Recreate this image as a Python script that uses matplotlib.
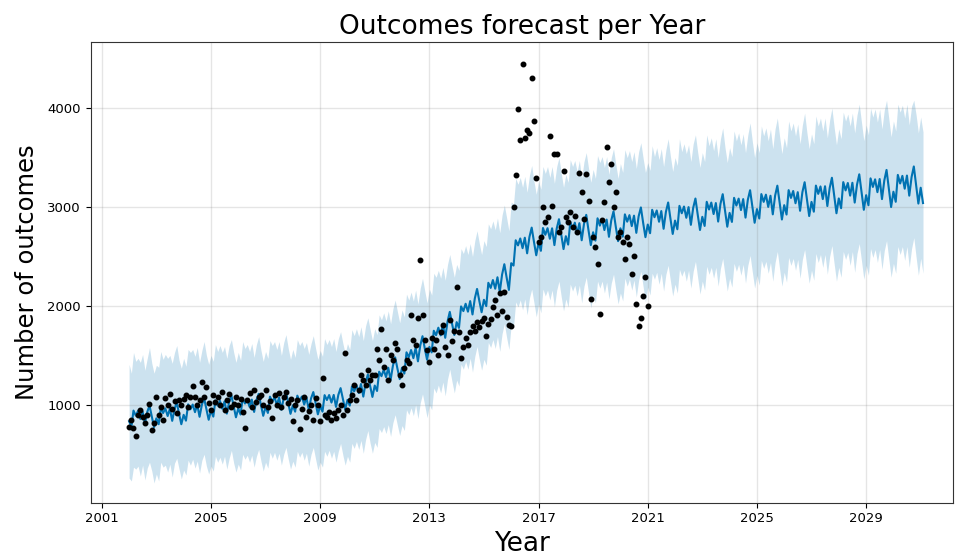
import matplotlib
matplotlib.use("Agg")
import matplotlib.pyplot as plt
import pandas as pd
import datetime as dt

# ---------------- data ----------------
# observed monthly outcomes, Jan 2002 .. Jan 2021
actual = [
    780, 850, 770, 690, 900, 950, 880, 820, 900, 1010, 750, 820,          # 2002
    1080, 900, 980, 850, 1070, 1000, 1110, 960, 1040, 920, 1050, 1000,    # 2003
    1060, 1100, 980, 1080, 1190, 1080, 1000, 1050, 1230, 1080, 1180, 1020,  # 2004
    950, 1100, 1030, 1080, 1000, 1130, 950, 1050, 1110, 980, 1010, 1080,  # 2005
    1000, 1060, 930, 770, 1050, 1120, 980, 1150, 1030, 1080, 1100, 1000,  # 2006
    1150, 980, 1040, 870, 1100, 1000, 1120, 980, 1080, 1130, 1020, 1060,  # 2007
    840, 1000, 1050, 760, 960, 1080, 880, 940, 1000, 850, 1070, 1000,     # 2008
    840, 1270, 900, 880, 930, 850, 920, 870, 950, 1000, 900, 1520,        # 2009
    950, 1050, 1100, 1200, 1050, 1150, 1300, 1250, 1200, 1350, 1250, 1300,  # 2010
    1300, 1560, 1450, 1770, 1380, 1560, 1250, 1500, 1450, 1630, 1560, 1300,  # 2011
    1200, 1370, 1450, 1420, 1910, 1660, 1610, 1880, 2460, 1910, 1660, 1550,  # 2012
    1430, 1680, 1560, 1660, 1500, 1740, 1810, 1580, 1500, 1860, 1650, 1750,  # 2013
    2190, 1740, 1470, 1580, 1680, 1600, 1740, 1800, 1750, 1840, 1790, 1850,  # 2014
    1880, 1700, 1820, 1870, 1990, 2060, 1910, 2130, 1950, 2140, 1890, 1810,  # 2015
    1800, 3000, 3320, 3990, 3680, 4450, 3700, 3780, 3750, 4300, 3870, 3290,  # 2016
    2650, 2700, 3000, 2850, 2900, 3720, 3010, 3540, 3540, 2750, 2800, 3360,  # 2017
    2900, 2850, 2950, 2800, 2910, 2750, 3340, 3150, 2880, 3330, 3060, 2070,  # 2018
    2700, 2600, 2420, 1920, 2870, 3050, 3610, 3250, 3430, 3000, 3150, 2700,  # 2019
    2750, 2650, 2470, 2700, 2630, 2320, 2500, 2020, 1800, 1880, 2100, 2290,  # 2020
    2000,                                                                  # 2021
]

# forecast (yhat) monthly, Jan 2002 .. Feb 2031
yhat = [
    834, 776, 942, 891, 939, 857, 933, 810, 927, 993, 879, 774,
    864, 804, 968, 917, 965, 887, 961, 838, 958, 1024, 909, 804,
    899, 840, 1005, 955, 1003, 926, 1002, 879, 1000, 1066, 953, 849,
    942, 881, 1045, 993, 1040, 961, 1035, 911, 1030, 1095, 980, 874,
    964, 902, 1066, 1013, 1059, 980, 1053, 928, 1047, 1111, 995, 889,
    979, 918, 1083, 1031, 1078, 1000, 1074, 950, 1069, 1134, 1016, 909,
    994, 931, 1093, 1039, 1084, 1003, 1075, 949, 1066, 1129, 1012, 904,
    989, 931, 1098, 1049, 1099, 1023, 1100, 979, 1101, 1169, 1057, 954,
    1050, 992, 1184, 1136, 1198, 1120, 1211, 1083, 1225, 1307, 1188, 1080,
    1195, 1140, 1335, 1290, 1355, 1280, 1375, 1250, 1395, 1480, 1365, 1260,
    1376, 1316, 1531, 1482, 1554, 1472, 1577, 1440, 1600, 1694, 1568, 1456,
    1586, 1530, 1749, 1704, 1780, 1702, 1811, 1678, 1842, 1940, 1818, 1706,
    1836, 1778, 1995, 1948, 2022, 1942, 2049, 1914, 2076, 2172, 2048, 1936,
    2062, 1998, 2234, 2182, 2262, 2174, 2290, 2142, 2318, 2422, 2286, 2162,
    2432, 2408, 2664, 2612, 2682, 2584, 2690, 2532, 2698, 2792, 2646, 2512,
    2640, 2557, 2788, 2719, 2786, 2679, 2785, 2615, 2783, 2877, 2719, 2575,
    2705, 2620, 2849, 2777, 2842, 2732, 2837, 2664, 2830, 2921, 2761, 2615,
    2745, 2660, 2886, 2812, 2878, 2767, 2873, 2699, 2866, 2956, 2797, 2655,
    2785, 2700, 2926, 2852, 2918, 2807, 2913, 2739, 2906, 2996, 2837, 2695,
    2823, 2735, 2972, 2897, 2965, 2851, 2959, 2780, 2952, 3046, 2880, 2728,
    2863, 2775, 3012, 2937, 3005, 2891, 2999, 2820, 2992, 3086, 2920, 2768,
    2901, 2809, 3053, 2975, 3045, 2929, 3040, 2853, 3033, 3130, 2960, 2801,
    2941, 2849, 3093, 3015, 3085, 2969, 3080, 2893, 3073, 3170, 3000, 2841,
    2979, 2884, 3131, 3052, 3125, 3001, 3114, 2926, 3115, 3216, 3039, 2874,
    3019, 2924, 3171, 3092, 3162, 3038, 3150, 2962, 3150, 3251, 3074, 2909,
    3052, 2953, 3217, 3133, 3208, 3080, 3210, 3010, 3192, 3296, 3110, 2937,
    3087, 2988, 3252, 3168, 3243, 3115, 3245, 3045, 3227, 3331, 3145, 2972,
    3120, 3018, 3290, 3203, 3280, 3150, 3283, 3080, 3268, 3375, 3180, 3000,
    3155, 3053, 3325, 3238, 3315, 3185, 3318, 3115, 3303, 3410, 3215, 3035,
    3195, 3040,
]

yhat_upper = [
    1410, 1320, 1530, 1440, 1470, 1430, 1510, 1350, 1470, 1580, 1420, 1320,
    1400, 1380, 1540, 1460, 1510, 1470, 1500, 1420, 1530, 1600, 1450, 1370,
    1470, 1390, 1560, 1530, 1560, 1490, 1580, 1430, 1550, 1640, 1500, 1410,
    1500, 1440, 1610, 1540, 1600, 1530, 1590, 1470, 1600, 1660, 1530, 1430,
    1530, 1450, 1640, 1570, 1610, 1540, 1620, 1480, 1610, 1690, 1550, 1440,
    1540, 1470, 1650, 1600, 1640, 1560, 1640, 1500, 1630, 1710, 1570, 1460,
    1560, 1480, 1660, 1600, 1640, 1570, 1630, 1510, 1620, 1700, 1570, 1460,
    1550, 1490, 1670, 1610, 1660, 1590, 1670, 1540, 1670, 1740, 1620, 1520,
    1620, 1560, 1760, 1700, 1770, 1690, 1790, 1650, 1800, 1880, 1760, 1650,
    1770, 1710, 1910, 1860, 1930, 1850, 1950, 1820, 1970, 2060, 1940, 1830,
    1960, 1890, 2120, 2060, 2140, 2050, 2160, 2020, 2180, 2280, 2150, 2030,
    2170, 2110, 2330, 2290, 2360, 2280, 2390, 2260, 2420, 2520, 2400, 2290,
    2420, 2360, 2580, 2530, 2610, 2520, 2630, 2500, 2660, 2760, 2630, 2520,
    2660, 2600, 2830, 2780, 2860, 2770, 2890, 2740, 2920, 3020, 2890, 2760,
    3050, 3030, 3290, 3230, 3300, 3200, 3310, 3150, 3320, 3420, 3260, 3130,
    3260, 3180, 3410, 3340, 3410, 3300, 3410, 3240, 3410, 3500, 3340, 3200,
    3330, 3250, 3480, 3410, 3470, 3360, 3470, 3290, 3460, 3550, 3390, 3250,
    3380, 3290, 3520, 3450, 3510, 3400, 3510, 3330, 3500, 3590, 3430, 3290,
    3440, 3350, 3580, 3500, 3570, 3460, 3560, 3390, 3560, 3650, 3490, 3350,
    3450, 3370, 3620, 3510, 3600, 3480, 3590, 3410, 3580, 3690, 3510, 3360,
    3500, 3420, 3690, 3560, 3640, 3540, 3630, 3460, 3640, 3730, 3550, 3400,
    3550, 3460, 3730, 3620, 3700, 3570, 3690, 3500, 3690, 3800, 3600, 3450,
    3600, 3510, 3770, 3670, 3750, 3630, 3740, 3550, 3730, 3850, 3660, 3500,
    3650, 3550, 3820, 3720, 3800, 3670, 3790, 3590, 3790, 3900, 3710, 3540,
    3700, 3600, 3870, 3770, 3850, 3720, 3840, 3640, 3830, 3950, 3750, 3590,
    3740, 3640, 3920, 3820, 3900, 3770, 3900, 3700, 3880, 4000, 3800, 3630,
    3790, 3690, 3960, 3870, 3940, 3820, 3950, 3750, 3930, 4040, 3850, 3670,
    3830, 3730, 4000, 3910, 3990, 3860, 3990, 3790, 3980, 4080, 3890, 3710,
    3870, 3770, 4040, 3960, 4030, 3900, 4040, 3830, 4020, 4080, 3930, 3750,
    3910, 3760,
]

yhat_lower = [
    260, 230, 370, 350, 380, 280, 390, 240, 360, 420, 330, 210,
    300, 230, 420, 370, 390, 320, 400, 270, 410, 460, 350, 250,
    340, 290, 440, 390, 450, 360, 430, 310, 440, 500, 380, 300,
    380, 330, 480, 420, 470, 400, 480, 350, 460, 540, 410, 320,
    400, 340, 500, 450, 490, 420, 490, 370, 480, 550, 430, 330,
    420, 360, 520, 460, 520, 440, 510, 390, 500, 570, 450, 350,
    430, 370, 530, 470, 520, 440, 510, 380, 500, 570, 450, 340,
    420, 370, 530, 480, 540, 460, 530, 420, 530, 610, 490, 390,
    480, 420, 610, 560, 630, 550, 640, 510, 650, 740, 610, 510,
    620, 570, 760, 720, 780, 710, 800, 680, 820, 900, 790, 690,
    790, 740, 950, 900, 970, 890, 1000, 860, 1020, 1110, 990, 870,
    1000, 950, 1170, 1120, 1200, 1120, 1230, 1090, 1260, 1360, 1230, 1120,
    1250, 1190, 1410, 1360, 1440, 1360, 1470, 1330, 1490, 1590, 1460, 1350,
    1460, 1400, 1630, 1580, 1660, 1570, 1690, 1540, 1720, 1820, 1680, 1560,
    1810, 1790, 2040, 1990, 2060, 1960, 2070, 1910, 2080, 2170, 2030, 1890,
    2020, 1930, 2170, 2100, 2160, 2060, 2160, 1990, 2160, 2250, 2090, 1950,
    2070, 1990, 2220, 2150, 2210, 2100, 2210, 2030, 2200, 2290, 2130, 1980,
    2110, 2030, 2250, 2180, 2250, 2130, 2240, 2070, 2230, 2320, 2160, 2020,
    2130, 2050, 2280, 2200, 2270, 2160, 2260, 2090, 2260, 2350, 2190, 2040,
    2190, 2110, 2330, 2270, 2340, 2220, 2330, 2150, 2320, 2410, 2250, 2100,
    2220, 2130, 2370, 2300, 2360, 2250, 2360, 2180, 2350, 2450, 2280, 2120,
    2250, 2160, 2400, 2320, 2390, 2280, 2390, 2200, 2380, 2480, 2310, 2150,
    2280, 2190, 2430, 2350, 2420, 2310, 2420, 2230, 2410, 2510, 2340, 2180,
    2310, 2210, 2460, 2380, 2450, 2330, 2440, 2250, 2440, 2550, 2370, 2200,
    2340, 2240, 2490, 2410, 2480, 2360, 2470, 2280, 2470, 2570, 2390, 2230,
    2360, 2260, 2530, 2440, 2520, 2390, 2520, 2320, 2500, 2610, 2420, 2250,
    2390, 2290, 2550, 2470, 2540, 2410, 2550, 2340, 2530, 2630, 2450, 2270,
    2410, 2310, 2580, 2490, 2570, 2440, 2570, 2370, 2560, 2660, 2470, 2290,
    2430, 2330, 2600, 2520, 2600, 2460, 2600, 2390, 2580, 2690, 2490, 2310,
    2480, 2330,
]

x_tick_years = [2001, 2005, 2009, 2013, 2017, 2021, 2025, 2029]
y_ticks = [1000, 2000, 3000, 4000]

title = "Outcomes forecast per Year"
x_label = "Year"
y_label = "Number of outcomes"

# ---------------- plot ----------------
obs_dates = pd.date_range("2002-01-01", periods=len(actual), freq="MS")
fc_dates = pd.date_range("2002-01-01", periods=len(yhat), freq="MS")

fig = plt.figure(figsize=(9.56, 5.58), dpi=100)
ax = fig.add_axes([0.095, 0.099, 0.902, 0.826])

ax.plot(obs_dates, actual, "k.", markersize=6.5, zorder=3)
ax.plot(fc_dates, yhat, ls="-", c="#0072B2", lw=1.5, zorder=2)
ax.fill_between(fc_dates, yhat_lower, yhat_upper, color="#0072B2", alpha=0.2, lw=0, zorder=1)

ax.grid(True, which="major", c="gray", ls="-", lw=1, alpha=0.2)
ax.set_xticks([dt.datetime(y, 1, 1) for y in x_tick_years])
ax.set_xticklabels([str(y) for y in x_tick_years], fontsize=9.5)
ax.set_yticks(y_ticks)
ax.set_yticklabels([str(v) for v in y_ticks], fontsize=9.5)
ax.set_xlim(dt.datetime(2000, 8, 7), dt.datetime(2032, 3, 10))
ax.set_ylim(10, 4670)

ax.set_title(title, fontsize=19, pad=6)
ax.set_xlabel(x_label, fontsize=19, labelpad=4)
ax.set_ylabel(y_label, fontsize=17.5, labelpad=6)
for s in ax.spines.values():
    s.set_color("#333333")

fig.savefig("out.png", dpi=100)
